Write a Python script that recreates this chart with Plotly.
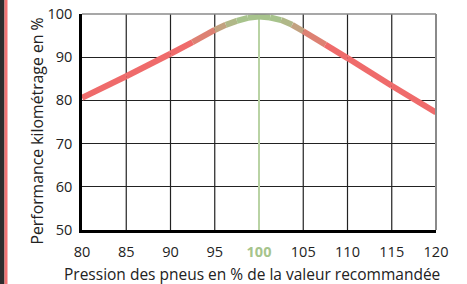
import plotly.graph_objects as go

# ---- data ----
pressure = [80, 85, 90, 92.5, 95, 96.25, 97.5, 98.75, 100, 101.25, 102.5, 103.75, 105, 107.5, 110, 115, 120]
performance = [80.6, 85.6, 90.8, 93.5, 96.3, 97.5, 98.4, 99.1, 99.4, 99.2, 98.6, 97.5, 96.0, 92.9, 89.8, 83.4, 77.2]
x_ticks = [80, 85, 90, 95, 100, 105, 110, 115, 120]
y_ticks = [50, 60, 70, 80, 90, 100]
recommended = 100
x_title = "Pression des pneus en % de la valeur recommandée"
y_title = "Performance kilométrage en %"

RED = (239, 107, 107)
GREEN = (167, 195, 140)

W, H = 467, 284
L, R, T, B = 82, 31, 14, 54
PW, PH = W - L - R, H - T - B


def px_x(px):
    return (px - L) / PW


def px_y(py):
    return (H - B - py) / PH


def color_at(x):
    d = abs(x - recommended)
    t = min(max((d - 2.5) / 5.0, 0.0), 1.0)
    c = [round(GREEN[i] + (RED[i] - GREEN[i]) * t) for i in range(3)]
    return f"rgb({c[0]},{c[1]},{c[2]})"


fig = go.Figure()

# recommended pressure line
fig.add_trace(go.Scatter(
    x=[recommended, recommended], y=[y_ticks[0], y_ticks[-1]], mode="lines",
    line=dict(color="#b9d3a4", width=2), hoverinfo="skip", showlegend=False))

# gradient curve as segments
for i in range(len(pressure) - 1):
    xm = (pressure[i] + pressure[i + 1]) / 2
    fig.add_trace(go.Scatter(
        x=pressure[i:i + 2], y=performance[i:i + 2], mode="lines",
        line=dict(color=color_at(xm), width=6),
        hoverinfo="skip", showlegend=False))

shapes = []
# vertical grid lines (except axis, border and recommended line)
for xv in x_ticks[1:-1]:
    if xv == recommended:
        continue
    shapes.append(dict(type="line", xref="x", yref="paper", x0=xv, x1=xv, y0=0, y1=1,
                       line=dict(color="#222222", width=1.2), layer="below"))
# top and right borders
shapes.append(dict(type="line", xref="paper", yref="paper", x0=0, x1=1, y0=1, y1=1,
                   line=dict(color="#8a8a8a", width=1.5), layer="above"))
shapes.append(dict(type="line", xref="paper", yref="paper", x0=1, x1=1, y0=0, y1=1,
                   line=dict(color="#8a8a8a", width=2), layer="above"))
# left decorative strip
shapes.append(dict(type="rect", xref="paper", yref="paper", x0=px_x(0), x1=px_x(4.5),
                   y0=px_y(H), y1=px_y(0), fillcolor="#2d2d2d", line=dict(width=0)))
shapes.append(dict(type="rect", xref="paper", yref="paper", x0=px_x(4.5), x1=px_x(7.5),
                   y0=px_y(H), y1=px_y(0), fillcolor="#f27373", line=dict(width=0)))

tick_text = [
    f"<b><span style='color:#a6c48c'>{v}</span></b>" if v == recommended else str(v)
    for v in x_ticks
]

FONT = "Open Sans"

fig.update_layout(
    width=W, height=H,
    margin=dict(l=L, r=R, t=T, b=B, autoexpand=False),
    paper_bgcolor="white", plot_bgcolor="white",
    shapes=shapes,
    showlegend=False,
    font=dict(family=FONT, size=14, color="#222222"),
    xaxis=dict(range=[x_ticks[0], x_ticks[-1]], tickvals=x_ticks, ticktext=tick_text,
               showgrid=False, zeroline=False, showline=True, linecolor="black",
               linewidth=2.5, ticks="", ticklabelstandoff=7, automargin=False,
               tickfont=dict(family=FONT, size=14.5, color="#222222")),
    yaxis=dict(range=[y_ticks[0], y_ticks[-1]], tickvals=y_ticks,
               showgrid=True, gridcolor="#222222", gridwidth=1.2,
               zeroline=False, showline=True, linecolor="black",
               linewidth=2.5, ticks="", ticklabelstandoff=4, automargin=False,
               tickfont=dict(family=FONT, size=14.5, color="#222222")),
    annotations=[
        dict(text=y_title, xref="paper", yref="paper", x=px_x(36), y=px_y(131.5),
             xanchor="center", yanchor="middle", textangle=-90, showarrow=False,
             font=dict(family=FONT, size=15.8, color="#222222")),
        dict(text=x_title, xref="paper", yref="paper", x=px_x(252), y=px_y(273.5),
             xanchor="center", yanchor="middle", showarrow=False,
             font=dict(family=FONT, size=15.5, color="#222222")),
    ],
)

fig.write_html(
    "out.html",
    config={"displayModeBar": False},
    post_script="document.body.style.margin='0';document.body.style.overflow='hidden';",
)
